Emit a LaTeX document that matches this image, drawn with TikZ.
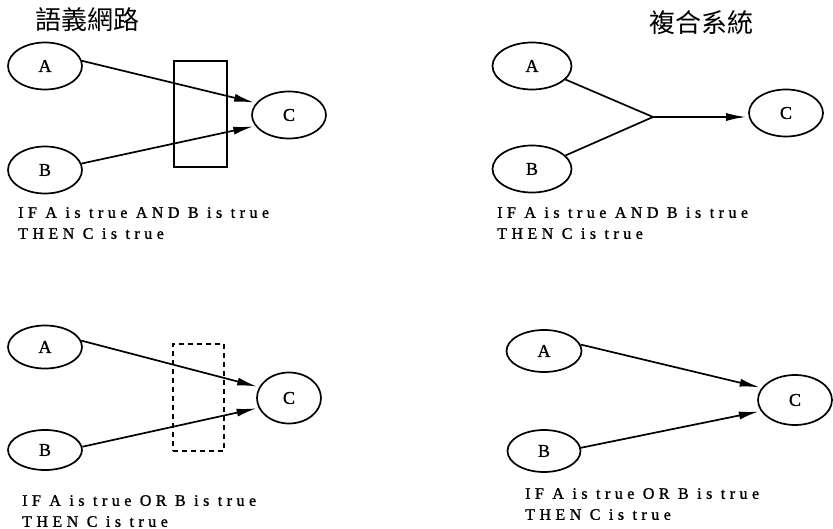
\documentclass[tikz,border=0pt]{standalone}
\usepackage{fontspec}
\setmainfont{Liberation Serif}
\newfontfamily\cjkfont{Noto Sans CJK TC}
\newfontfamily\rulefont[LetterSpace=28, FakeBold=1.2]{Liberation Serif}
\newfontfamily\letterfont[FakeBold=1.2]{Liberation Serif}
\usetikzlibrary{shapes.geometric}
\usetikzlibrary{arrows.meta}

\begin{document}
\begin{tikzpicture}[
            x=1pt, y=-1pt,
            concept/.style={draw, ellipse, line width=0.6mm, inner sep=0pt,
                minimum width=74pt, minimum height=47pt, font=\letterfont\fontsize{18}{18}\selectfont},
            linkarrow/.style={line width=0.6mm, -{Latex[length=20pt, width=8pt]}, shorten >=2pt},
            linkline/.style={line width=0.6mm},
            andbox/.style={draw, line width=0.5mm},
            orbox/.style={draw, line width=0.45mm, dash pattern=on 5pt off 4pt},
            ruletext/.style={anchor=north west, align=left, inner sep=0pt,
                font=\rulefont\fontsize{16}{21}\selectfont},
            titlenode/.style={font=\cjkfont\fontsize{26}{26}\selectfont}
        ]
            \useasboundingbox (0,0) rectangle (833,529);

            % titles
            \node[titlenode] (semtitle) at (87, 20) {語義網路};
            \node[titlenode] (comptitle) at (701, 23) {複合系統};

            % semantic net, AND (top left)
            \node[concept] (sa1) at (45, 66) {A};
            \node[concept] (sb1) at (45, 170) {B};
            \node[concept] (sc1) at (289, 115) {C};
            \node[andbox, minimum width=53pt, minimum height=106pt] (andrect) at (200.5, 114) {};
            \draw[linkarrow] (sa1.8) -- (sc1.160);
            \draw[linkarrow] (sb1.10) -- (sc1.198);
            \node[ruletext] (andrule1) at (18, 207) {IF A is true AND B is true\\THEN C is true};

            % compound system, AND (top right)
            \node[concept, minimum width=79pt] (ca1) at (532, 66) {A};
            \node[concept, minimum width=79pt] (cb1) at (532, 169) {B};
            \node[concept] (cc1) at (786, 113) {C};
            \coordinate (joint) at (653, 117);
            \draw[linkline] (ca1.-22) -- (joint);
            \draw[linkline] (cb1.22) -- (joint);
            \draw[linkarrow] (joint) -- (joint -| cc1.west);
            \node[ruletext] (andrule2) at (497, 207) {IF A is true AND B is true\\THEN C is true};

            % semantic net, OR (bottom left)
            \node[concept, minimum height=43pt] (sa2) at (45, 347) {A};
            \node[concept, minimum height=40pt] (sb2) at (45, 450) {B};
            \node[concept, minimum width=64pt, minimum height=51pt] (sc2) at (289, 398) {C};
            \node[orbox, minimum width=51pt, minimum height=107pt] (orrect) at (198.5, 397.5) {};
            \draw[linkarrow] (sa2.10) -- (sc2.160);
            \draw[linkarrow] (sb2.5) -- (sc2.198);
            \node[ruletext] (orrule1) at (22, 495) {IF A is true OR B is true\\THEN C is true};

            % compound system, OR (bottom right)
            \node[concept, minimum width=75pt, minimum height=42pt] (ca2) at (544, 351) {A};
            \node[concept, minimum width=73pt, minimum height=42pt] (cb2) at (544, 451) {B};
            \node[concept, minimum width=74pt, minimum height=50pt] (cc2) at (795, 400) {C};
            \draw[linkarrow] (ca2.10) -- (cc2.160);
            \draw[linkarrow] (cb2.5) -- (cc2.198);
            \node[ruletext] (orrule2) at (525, 488) {IF A is true OR B is true\\THEN C is true};

        \end{tikzpicture}
\end{document}
